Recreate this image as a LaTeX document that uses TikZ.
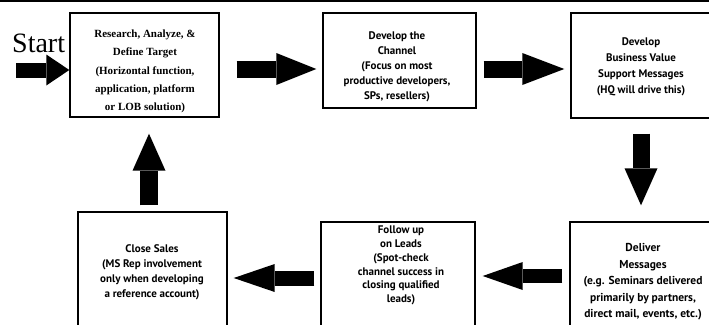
\documentclass[tikz,border=0pt]{standalone}
\usepackage{fontspec}
\setmainfont{Liberation Serif}
\newfontfamily\gill{PT Sans}
\usetikzlibrary{arrows.meta}
\begin{document}
\begin{tikzpicture}[x=1pt,y=-1pt,
  box/.style={draw=black, line width=1.4pt, inner sep=0pt},
  serif/.style={font=\bfseries\fontsize{11}{18.2}\selectfont, align=center, inner sep=0pt},
  sans/.style={font=\gill\bfseries\fontsize{11}{15}\selectfont, align=center, inner sep=0pt},
  blk/.style n args={3}{line width=#1pt, -{Triangle[length=#2pt, width=#3pt, line width=0pt]}}]
\useasboundingbox (0,0) rectangle (709,324);
\fill[white] (0,0) rectangle (709,324);
\clip (0,0) rectangle (709,324);
\draw[line width=1.2pt] (0,1) -- (709,1);
% boxes
\node[box, minimum width=149pt, minimum height=104pt] (b1) at (144.5,65) {};
\node[box, minimum width=153pt, minimum height=95pt] (b2) at (399.5,60.5) {};
\node[box, minimum width=141pt, minimum height=105pt] (b3) at (641.5,65.5) {};
\node[box, minimum width=149pt, minimum height=128pt] (b4) at (152.5,276) {};
\node[box, minimum width=154pt, minimum height=118pt] (b5) at (398,281) {};
\node[box, minimum width=142pt, minimum height=118pt] (b6) at (641,281) {};
% texts
\node[serif] (t1) at (145,71.5) {Research, Analyze, \&\\Define Target\\(Horizontal function,\\application, platform\\or LOB solution)};
\node[sans] (t2) at (397,67) {Develop the\\Channel\\(Focus on most\\productive developers,\\SPs, resellers)};
\node[sans, font=\gill\bfseries\fontsize{11}{16}\selectfont] (t3) at (641,67) {Develop\\Business Value\\Support Messages\\(HQ will drive this)};
\node[sans] (t4) at (152,272.5) {Close Sales\\(MS Rep involvement\\only when developing\\a reference account)};
\node[sans, font=\gill\bfseries\fontsize{11}{13.8}\selectfont] (t5) at (401,265.5) {Follow up\\on Leads\\(Spot-check\\channel success in\\closing qualified\\leads)};
\node[sans, font=\gill\bfseries\fontsize{11.5}{16.5}\selectfont] (t6) at (643,282) {Deliver\\Messages\\(e.g. Seminars delivered\\primarily by partners,\\direct mail, events, etc.)};
\node[anchor=base west, inner sep=0pt, font=\fontsize{28}{28}\selectfont] (start) at (12,52) {Start};
% arrows
\coordinate (s0) at (16,70);
\draw[blk={15}{23}{31}] (s0) -- (s0 -| b1.west);
\draw[blk={17}{40}{32}, shorten <=17pt, shorten >=6pt] (b1.east |- 0,69) -- (b2.west |- 0,69);
\draw[blk={17}{42}{32}, shorten <=7pt, shorten >=6pt] (b2.east |- 0,69) -- (b3.west |- 0,69);
\draw[blk={17}{37}{33}, shorten <=15pt, shorten >=16pt] (641,0 |- b3.south) -- (641,0 |- b6.north);
\draw[blk={14}{40}{28}, shorten <=7pt, shorten >=7pt] (b6.west |- 0,276) -- (b5.east |- 0,276);
\draw[blk={15}{41}{28}, shorten <=6pt, shorten >=6pt] (b5.west |- 0,278) -- (b4.east |- 0,278);
\draw[blk={18}{37}{33}, shorten <=6pt, shorten >=16pt] (149,0 |- b4.north) -- (149,0 |- b1.south);
\end{tikzpicture}
\end{document}
